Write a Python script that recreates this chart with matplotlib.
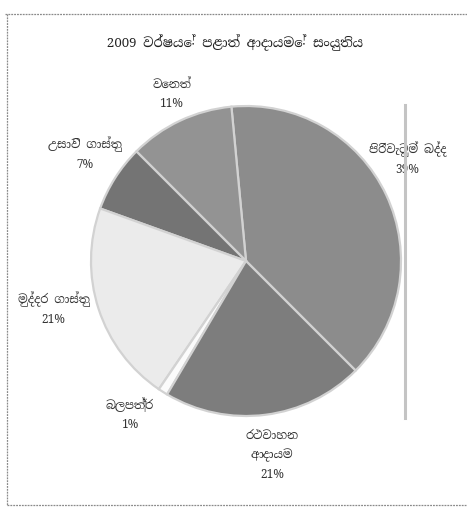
import numpy as np
import matplotlib
matplotlib.use('Agg')
import matplotlib.pyplot as plt
from matplotlib import font_manager
from matplotlib.lines import Line2D

# data
title = '2009 වර්ෂයේ පළාත් ආදායමේ සංයුතිය'
categories = ['පිරිවැටුම් බද්ද', 'වෙනත්', 'උසාවි ගාස්තු', 'මුද්දර ගාස්තු',
              'බලපත්‍ර', 'රථවාහන\nආදායම']
shares = [39, 11, 7, 21, 1, 21]
colors = ['#8c8c8c', '#939393', '#747474', '#ebebeb', '#fbfbfb', '#7d7d7d']

# label block centres, in pie radius units
label_xy = [(1.04, 0.66), (-0.48, 1.08), (-1.04, 0.69), (-1.24, -0.31),
            (-0.75, -0.99), (0.17, -1.25)]

# use whatever installed fonts cover the text
installed = {f.name for f in font_manager.fontManager.ttflist}
wanted = ['Noto Serif Sinhala', 'Noto Sans Sinhala', 'Liberation Serif', 'DejaVu Sans']
families = [f for f in wanted if f in installed] or ['DejaVu Sans']
plt.rcParams['font.family'] = families

W, H = 467, 512
fig = plt.figure(figsize=(W / 100, H / 100), dpi=100)
fig.patch.set_facecolor('white')

# pie axes: centre (246, 261) px, radius 155 px
cx, cy, r = 246, 261, 155
ax = fig.add_axes([(cx - r) / W, (H - cy - r) / H, 2 * r / W, 2 * r / H])
wedges, _ = ax.pie(shares, colors=colors, startangle=-45, counterclock=True,
                   radius=1.0,
                   wedgeprops=dict(edgecolor='#d2d2d2', linewidth=1.6))
ax.set_xlim(-1, 1)
ax.set_ylim(-1, 1)
ax.set_aspect('equal')
ax.axis('off')

for cat, val, (lx, ly) in zip(categories, shares, label_xy):
    ax.text(lx, ly, '{}\n{}%'.format(cat, val), ha='center', va='center',
            fontsize=8.5, color='#333333', linespacing=1.6, clip_on=False)

fig.text(235 / W, 1 - 43 / H, title, ha='center', va='center',
         fontsize=9.5, color='#222222')

# scan artefacts: page frame and the edge line right of the pie
frame = dict(color='#8a8a8a', linewidth=0.9, linestyle=(0, (1.5, 0.8)))
fig.add_artist(Line2D([5 / W, 1.0], [1 - 14 / H, 1 - 14 / H], transform=fig.transFigure, **frame))
fig.add_artist(Line2D([7 / W, 7 / W], [1 - 14 / H, 1 - 505 / H], transform=fig.transFigure, **frame))
fig.add_artist(Line2D([7 / W, 1.0], [1 - 505 / H, 1 - 505 / H], transform=fig.transFigure, **frame))
fig.add_artist(Line2D([405 / W, 405 / W], [1 - 105 / H, 1 - 418 / H], transform=fig.transFigure,
                      color='#c4c4c4', linewidth=2.2))

fig.savefig('out.png', dpi=100, facecolor='white')
